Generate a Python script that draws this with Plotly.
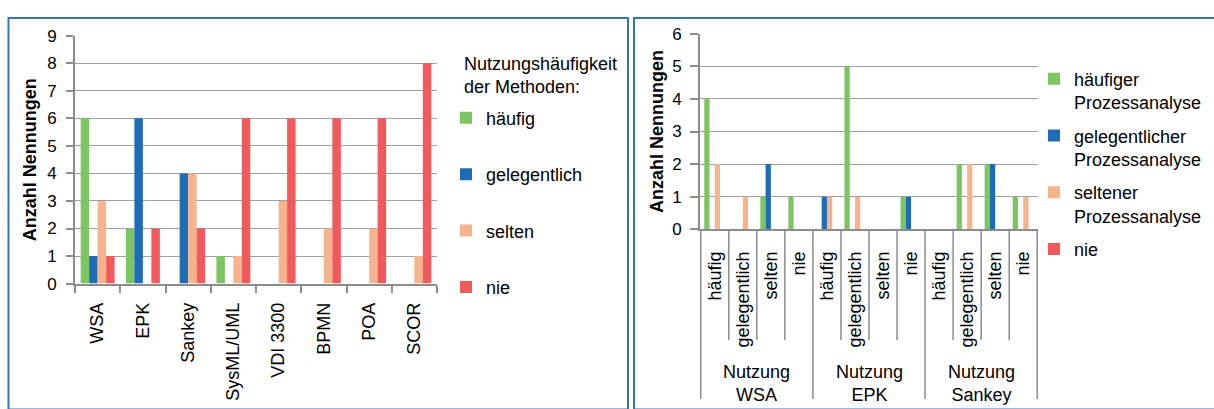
import plotly.graph_objects as go

# ---- data: usage frequency of the methods (left chart) ----
methods = ["WSA", "EPK", "Sankey", "SysML/UML", "VDI 3300", "BPMN", "POA", "SCOR"]
haeufig = [6, 2, 0, 1, 0, 0, 0, 0]
gelegentlich = [1, 6, 4, 0, 0, 0, 0, 0]
selten = [3, 0, 4, 1, 3, 2, 2, 1]
nie = [1, 2, 2, 6, 6, 6, 6, 8]
left_series = ["häufig", "gelegentlich", "selten", "nie"]
left_yticks = list(range(0, 10))

# ---- data: method usage vs. frequency of process analysis (right chart) ----
groups = ["Nutzung WSA", "Nutzung EPK", "Nutzung Sankey"]
levels = ["häufig", "gelegentlich", "selten", "nie"]
pa_haeufig = [4, 0, 1, 1, 0, 5, 0, 1, 0, 2, 2, 1]
pa_gelegentlich = [0, 0, 2, 0, 1, 0, 0, 1, 0, 0, 2, 0]
pa_selten = [2, 1, 0, 0, 1, 1, 0, 0, 0, 2, 0, 1]
pa_nie = [0, 0, 0, 0, 0, 0, 0, 0, 0, 0, 0, 0]
right_series = ["häufiger<br>Prozessanalyse", "gelegentlicher<br>Prozessanalyse",
                "seltener<br>Prozessanalyse", "nie"]
right_yticks = list(range(0, 7))

colors = ["#7DC462", "#1E6CB6", "#F5B48C", "#F05A5C"]
FONT = "Arial, Liberation Sans, sans-serif"
W, H = 1214, 409
GRID = "#A0A0A0"
AXIS = "#8C8C8C"


def px_x(p):
    return p / W


def px_y(p):
    return 1 - p / H


fig = go.Figure()

for name, vals, col in zip(left_series, [haeufig, gelegentlich, selten, nie], colors):
    fig.add_trace(go.Bar(
        x=methods, y=vals, name=name, marker=dict(color=col, line=dict(width=0)),
        xaxis="x", yaxis="y", legend="legend", legendgroup="L" + name,
    ))

keys = [f"{g}|{l}" for g in groups for l in levels]
for name, vals, col in zip(right_series, [pa_haeufig, pa_gelegentlich, pa_selten, pa_nie], colors):
    fig.add_trace(go.Bar(
        x=keys, y=vals, name=name, marker=dict(color=col, line=dict(width=0)),
        xaxis="x2", yaxis="y2", legend="legend2", legendgroup="R" + name,
    ))

left_dom_x = [px_x(75), px_x(437)]
left_dom_y = [px_y(288), px_y(28)]
right_dom_x = [px_x(700), px_x(1038)]
right_dom_y = [px_y(231), px_y(26)]

tick_font = dict(family=FONT, size=17, color="#000")
cat_font = dict(family=FONT, size=18, color="#000")
title_font = dict(family=FONT, size=18, color="#000")

fig.update_layout(
    width=W, height=H, margin=dict(l=0, r=0, t=0, b=0),
    paper_bgcolor="white", plot_bgcolor="white",
    barmode="group", bargap=0.25, bargroupgap=0,
    font=dict(family=FONT, size=18, color="#000"),
    xaxis=dict(
        domain=left_dom_x, anchor="y", type="category",
        tickangle=-90, tickfont=cat_font, tickson="boundaries",
        ticks="outside", ticklen=7, tickwidth=1.5, tickcolor=AXIS,
        showline=True, linecolor=AXIS, linewidth=2, showgrid=False,
        ticklabelstandoff=10,
    ),
    yaxis=dict(
        domain=left_dom_y, anchor="x", range=[0, 9], tickvals=left_yticks,
        tickfont=tick_font, ticks="outside", ticklen=7, tickwidth=1.5, tickcolor=AXIS,
        showline=True, linecolor=AXIS, linewidth=2,
        showgrid=True, gridcolor=GRID, gridwidth=1.4, zeroline=False,
        ticklabelstandoff=6,
        title=dict(text="<b>Anzahl Nennungen</b>", font=title_font, standoff=6),
    ),
    xaxis2=dict(
        domain=right_dom_x, anchor="y2", type="category",
        tickvals=keys, ticktext=[l for g in groups for l in levels],
        tickangle=-90, tickfont=cat_font, ticks="", showgrid=False,
        showline=True, linecolor=AXIS, linewidth=2,
        ticklabelstandoff=13,
    ),
    yaxis2=dict(
        domain=right_dom_y, anchor="x2", range=[0, 6], tickvals=right_yticks,
        tickfont=tick_font, ticks="outside", ticklen=8, tickwidth=1.5, tickcolor=AXIS,
        showline=True, linecolor=AXIS, linewidth=2,
        showgrid=True, gridcolor=GRID, gridwidth=1.4, zeroline=False,
        ticklabelstandoff=5,
        title=dict(text="<b>Anzahl Nennungen</b>", font=title_font, standoff=4),
    ),
    legend=dict(
        x=px_x(446), y=px_y(95), xanchor="left", yanchor="top",
        font=dict(family=FONT, size=18, color="#000"),
        tracegroupgap=30, bgcolor="rgba(0,0,0,0)", traceorder="grouped",
    ),
    legend2=dict(
        x=px_x(1034), y=px_y(54), xanchor="left", yanchor="top",
        font=dict(family=FONT, size=18, color="#000"), valign="top",
        tracegroupgap=7, bgcolor="rgba(0,0,0,0)", traceorder="grouped",
    ),
)

# heading of the left legend
fig.add_annotation(
    x=px_x(462), y=px_y(45), xref="paper", yref="paper",
    text="Nutzungshäufigkeit<br>der Methoden:", showarrow=False,
    font=dict(family=FONT, size=18, color="#000"), align="left",
    xanchor="left", yanchor="top",
)

shapes = []
# panel frames
shapes.append(dict(type="rect", xref="paper", yref="paper",
                   x0=px_x(8.5), x1=px_x(628), y0=px_y(420), y1=px_y(9.5),
                   line=dict(color="#3673B5", width=2), fillcolor="rgba(0,0,0,0)"))
shapes.append(dict(type="rect", xref="paper", yref="paper",
                   x0=px_x(634), x1=px_x(1230), y0=px_y(420), y1=px_y(9.5),
                   line=dict(color="#3673B5", width=2), fillcolor="rgba(0,0,0,0)"))

# category separators below the right chart's axis
for i in range(len(keys) + 1):
    outer = i % len(levels) == 0
    shapes.append(dict(type="line", xref="x2", yref="paper",
                       x0=i - 0.5, x1=i - 0.5,
                       y0=right_dom_y[0], y1=0 if outer else px_y(347),
                       line=dict(color=AXIS, width=1.5)))
fig.update_layout(shapes=shapes)

# group labels for the right chart
for gi, g in enumerate(groups):
    fig.add_annotation(
        x=gi * len(levels) + (len(levels) - 1) / 2, xref="x2",
        y=px_y(393), yref="paper", text=g.replace(" ", "<br>"),
        showarrow=False, font=cat_font, align="center",
        xanchor="center", yanchor="middle",
    )

fig.write_html("out.html")
